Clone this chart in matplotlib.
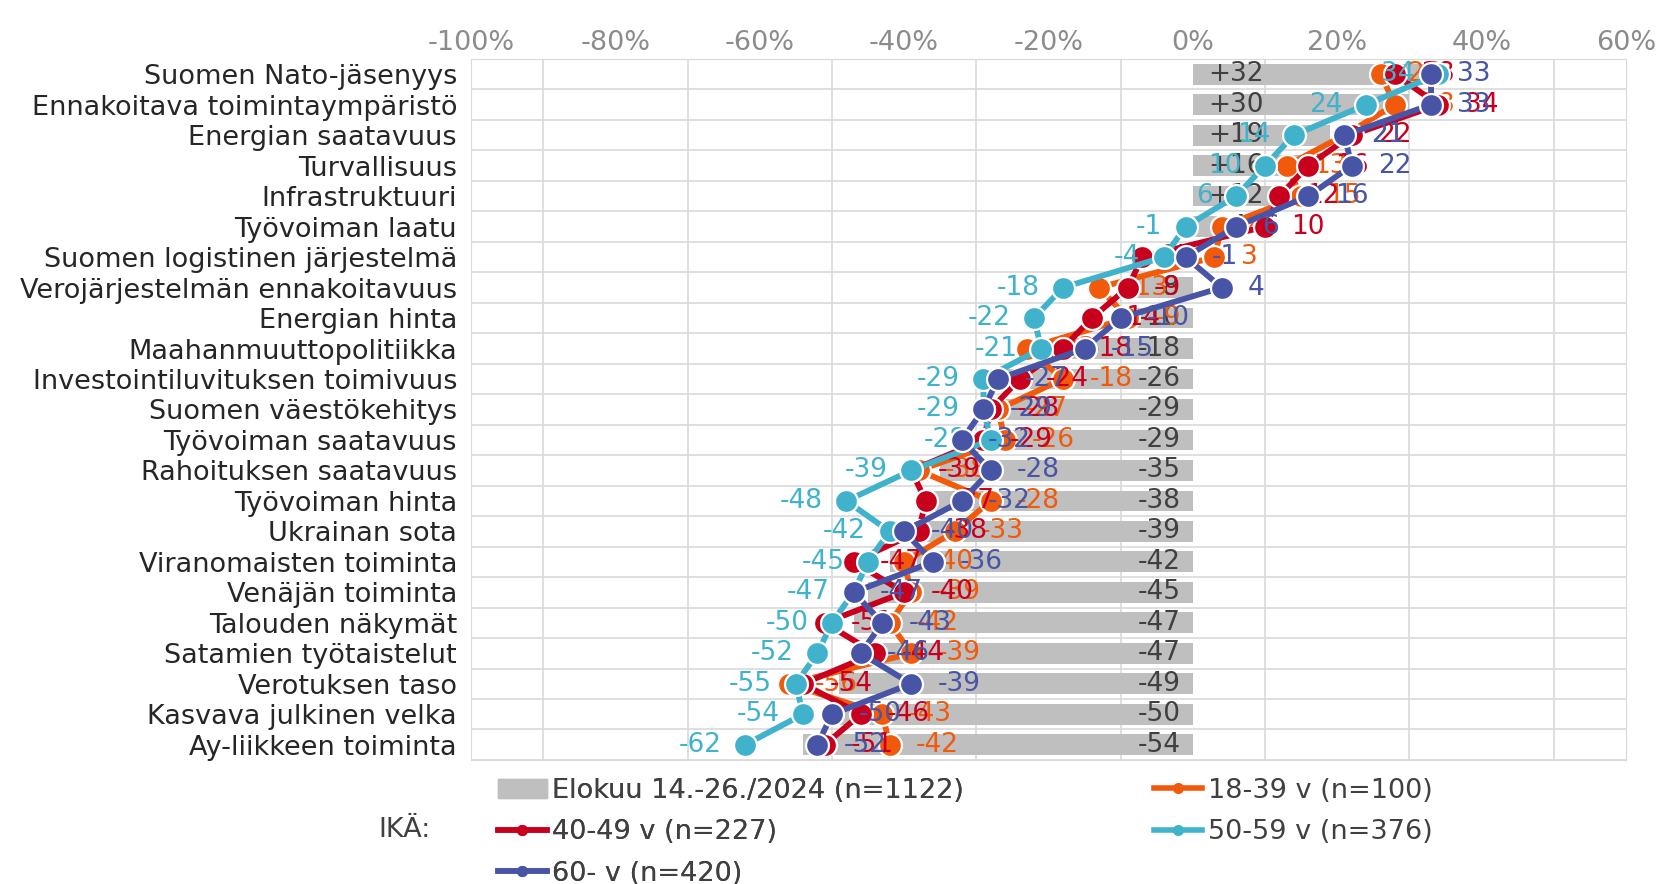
import numpy as np
import matplotlib.pyplot as plt
from matplotlib.lines import Line2D
from matplotlib.patches import Patch

# data to plot
categories = ['Suomen Nato-jäsenyys', 'Ennakoitava toimintaympäristö', 'Energian saatavuus',
              'Turvallisuus', 'Infrastruktuuri', 'Työvoiman laatu',
              'Suomen logistinen järjestelmä', 'Verojärjestelmän ennakoitavuus', 'Energian hinta',
              'Maahanmuuttopolitiikka', 'Investointiluvituksen toimivuus', 'Suomen väestökehitys',
              'Työvoiman saatavuus', 'Rahoituksen saatavuus', 'Työvoiman hinta', 'Ukrainan sota',
              'Viranomaisten toiminta', 'Venäjän toiminta', 'Talouden näkymät',
              'Satamien työtaistelut', 'Verotuksen taso', 'Kasvava julkinen velka',
              'Ay-liikkeen toiminta']

total = [32, 30, 19, 16, 12, 4, -3, -8, -10, -18, -26, -29, -29, -35, -38, -39, -42, -45,
         -47, -47, -49, -50, -54]
age_18_39 = [26, 28, 21, 13, 15, 4, 3, -13, -9, -23, -18, -27, -26, -38, -28, -33, -40, -39,
             -42, -39, -56, -43, -42]
age_40_49 = [28, 34, 22, 16, 12, 10, -7, -9, -14, -18, -24, -28, -29, -39, -37, -38, -47, -40,
             -51, -44, -54, -46, -51]
age_50_59 = [34, 24, 14, 10, 6, -1, -4, -18, -22, -21, -29, -29, -28, -39, -48, -42, -45, -47,
             -50, -52, -55, -54, -62]
age_60 = [33, 33, 21, 22, 16, 6, -1, 4, -10, -15, -27, -29, -32, -28, -32, -40, -36, -47,
          -43, -46, -39, -50, -52]

total_label = 'Elokuu 14.-26./2024 (n=1122)'
series_labels = ['18-39 v (n=100)', '40-49 v (n=227)', '50-59 v (n=376)', '60- v (n=420)']
x_ticks = np.arange(-100, 61, 20)

colors = ['#F05A0A', '#C8001E', '#40B2CC', '#4854A5']
gray = '#BFBFBF'
text_col = '#404040'
fs = 19
fs_cat = 19.5
fs_leg = 19.5

fig = plt.figure(figsize=(16.6, 8.84), dpi=100)
ax = fig.add_axes([0.2837, 0.1403, 0.6958, 0.7930])

y = np.arange(len(categories))

ax.barh(y, total, height=0.68, color=gray, zorder=2)
for yi, v in zip(y, total):
    txt = ('+%d' % v) if v > 0 else '%d' % v
    if v >= 0:
        ax.annotate(txt, (0, yi), xytext=(11, 0), textcoords='offset points',
                    ha='left', va='center', fontsize=fs, color=text_col, zorder=3)
    else:
        ax.annotate(txt, (0, yi), xytext=(-9, 0), textcoords='offset points',
                    ha='right', va='center', fontsize=fs, color=text_col, zorder=3)

series = [age_18_39, age_40_49, age_50_59, age_60]
for i, (vals, c) in enumerate(zip(series, colors)):
    z = 4 + i * 2
    ax.plot(vals, y, color=c, lw=4.2, marker='o', ms=16.5, mfc=c, mec='white', mew=1.6,
            zorder=z)
    for yi, v in zip(y, vals):
        if i == 2:
            ax.annotate('%d' % v, (v, yi), xytext=(-17, 0), textcoords='offset points',
                        ha='right', va='center', fontsize=fs, color=c, zorder=z + 1)
        else:
            ax.annotate('%d' % v, (v, yi), xytext=(19, 0), textcoords='offset points',
                        ha='left', va='center', fontsize=fs, color=c, zorder=z + 1)

ax.set_xlim(-100, 60)
ax.set_ylim(len(categories) - 0.5, -0.5)
ax.set_xticks(x_ticks)
ax.set_xticklabels(['%d%%' % t for t in x_ticks])
ax.xaxis.tick_top()
ax.tick_params(axis='x', length=0, pad=2, labelsize=fs_leg, labelcolor='#8C8C8C')
ax.set_xticks(np.arange(-100, 61, 10), minor=True)
ax.tick_params(axis='x', which='minor', length=0)
ax.set_yticks(y)
ax.set_yticklabels(categories)
ax.tick_params(axis='y', length=0, pad=10, labelsize=fs_cat, labelcolor='#262626')
ax.set_yticks(np.arange(len(categories) + 1) - 0.5, minor=True)
ax.tick_params(axis='y', which='minor', length=0)
ax.grid(True, which='minor', color='#D9D9D9', lw=1.2, zorder=0)
ax.grid(False, which='major')
ax.set_axisbelow(True)
for s in ax.spines.values():
    s.set_color('#D9D9D9')

h_total = Patch(color=gray)
hs = [Line2D([], [], color=c, lw=4, marker='o', ms=7, mec=c) for c in colors]

leg_kw = dict(loc='upper left', frameon=False, fontsize=fs_leg, labelcolor=text_col,
              handlelength=1.8, handletextpad=0.2, labelspacing=0.57, borderpad=0,
              borderaxespad=0)
leg1 = fig.legend([h_total, hs[1], hs[3]], [total_label, series_labels[1], series_labels[3]],
                  bbox_to_anchor=(0.3, 0.12), **leg_kw)
fig.legend([hs[0], hs[2]], [series_labels[0], series_labels[2]],
           bbox_to_anchor=(0.695, 0.12), **leg_kw)
fig.add_artist(leg1)

fig.text(0.228, 0.061, 'IKÄ:', fontsize=fs_leg, color=text_col, va='center', ha='left')

plt.savefig('out.png', dpi=100)
